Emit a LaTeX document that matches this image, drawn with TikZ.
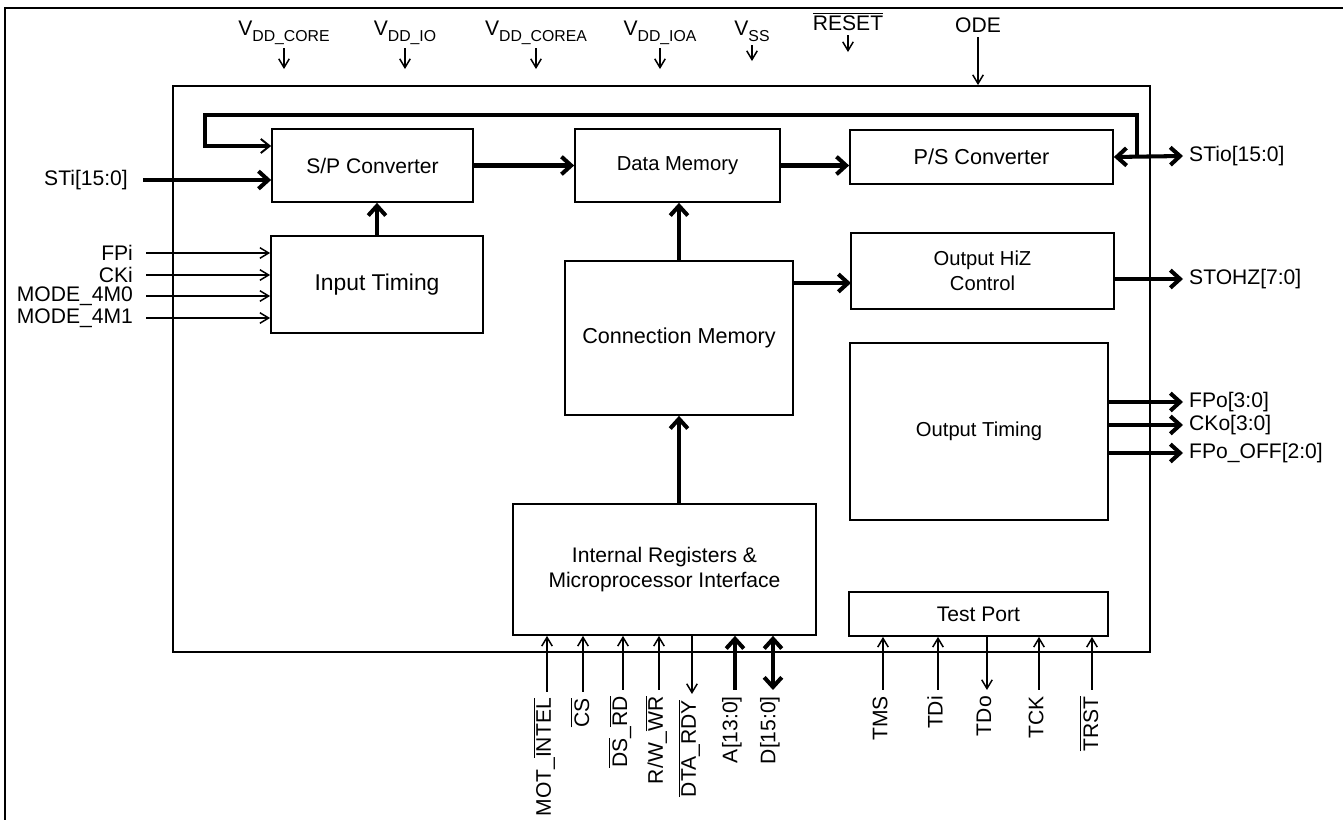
\documentclass[tikz,border=0pt]{standalone}
\usepackage{fontspec}
\setmainfont{Liberation Sans}
\usetikzlibrary{arrows.meta}
\newcommand{\ovl}[1]{$\overline{\mbox{#1}}$}
\newcommand{\subtxt}[1]{\raisebox{-0.45ex}{\fontsize{9}{10}\selectfont #1}}
\begin{document}
\begin{tikzpicture}[x=0.02cm,y=-0.02cm,
    lab/.style={font=\fontsize{12}{14}\selectfont},
    blk/.style={draw,line width=1pt,align=center,inner sep=1pt},
    pin/.style={line width=0.85pt,-{Straight Barb[length=5pt,width=6pt]}},
    bus/.style={line width=2.3pt,-{Straight Barb[length=5.5pt,width=10pt]}},
    busd/.style={line width=2.3pt,{Straight Barb[length=5.5pt,width=10pt]}-{Straight Barb[length=5.5pt,width=10pt]}},
    loopbus/.style={line width=1.9pt,-{Straight Barb[length=5pt,width=8pt,line width=1.1pt]}},
    bot/.style={lab,rotate=90,anchor=east}]
  \useasboundingbox (0,0) rectangle (1343,820);
  \draw[line width=1.4pt] (1343,8) -- (5,8) -- (5,820);
  % device outline
  \node[draw,line width=1.1pt,minimum width=19.54cm,minimum height=11.32cm] (chip) at (661.5,369) {};
  % blocks
  \node[blk,font=\fontsize{12}{14}\selectfont,minimum width=4.02cm,minimum height=1.46cm] (sp) at (372.5,165.5) {S/P Converter};
  \node[blk,font=\fontsize{11.5}{13}\selectfont,minimum width=4.10cm,minimum height=1.46cm] (dm) at (677.5,165.5) {Data Memory};
  \node[blk,font=\fontsize{12.3}{14}\selectfont,minimum width=5.26cm,minimum height=1.08cm] (ps) at (981.5,157) {P/S Converter};
  \node[blk,font=\fontsize{13}{15}\selectfont,minimum width=4.24cm,minimum height=1.94cm] (it) at (377,284.5) {Input Timing};
  \node[blk,font=\fontsize{12.3}{14}\selectfont,minimum width=4.56cm,minimum height=3.08cm] (cm) at (679,338) {Connection Memory};
  \node[blk,font=\fontsize{11.5}{14}\selectfont,minimum width=5.26cm,minimum height=1.52cm] (hiz) at (982.5,271) {Output HiZ\\Control};
  \node[blk,font=\fontsize{11.5}{13}\selectfont,minimum width=5.16cm,minimum height=3.54cm] (ot) at (979,431.5) {Output Timing};
  \node[blk,font=\fontsize{12}{14.5}\selectfont,minimum width=6.06cm,minimum height=2.62cm] (ir) at (664.5,569.5) {Internal Registers \&\\Microprocessor Interface};
  \node[blk,font=\fontsize{12}{14}\selectfont,minimum width=5.18cm,minimum height=0.88cm] (tp) at (978.5,614) {Test Port};
  % internal data paths
  \draw[bus] (sp.east) -- (dm.west);
  \draw[bus] (dm.east) -- (dm.east -| ps.west);
  \draw[bus] (it.north) -- (it.north |- sp.south);
  \draw[bus] (cm.north) -- (cm.north |- dm.south);
  \draw[bus] (cm.south |- ir.north) -- (cm.south);
  \coordinate (hizin) at (851,283);
  \draw[bus] (hizin -| cm.east) -- (hizin);
  \coordinate (tap) at (1137,157);
  \coordinate (busr) at (1137,115);
  \coordinate (busl) at (205,115);
  \coordinate (spin) at (272,146);
  \draw[loopbus] (tap) -- (busr) -- (busl) |- (sp.west |- spin);
  % supplies and top pins
  \node[lab,anchor=base,inner sep=2pt] (vcore) at (284,36) {V\subtxt{DD\_CORE}};
  \node[lab,anchor=base,inner sep=2pt] (vio) at (405,36) {V\subtxt{DD\_IO}};
  \node[lab,anchor=base,inner sep=2pt] (vcorea) at (536,36) {V\subtxt{DD\_COREA}};
  \node[lab,anchor=base,inner sep=2pt] (vioa) at (660,36) {V\subtxt{DD\_IOA}};
  \node[lab,anchor=base,inner sep=2pt] (vss) at (752,36) {V\subtxt{SS}};
  \node[lab,anchor=base,inner sep=2pt] (rst) at (848,31) {\ovl{RESET}};
  \node[lab,anchor=base,inner sep=2pt] (ode) at (978,33) {ODE};
  \foreach \s in {vcore,vio,vcorea,vioa}
    \draw[pin] (\s.south) -- ++(0,21);
  \draw[pin] (vss.south) -- ++(0,16);
  \draw[pin] (rst.south) -- ++(0,17);
  \draw[pin] (ode.south) -- (ode.south |- chip.north);
  % left inputs
  \node[lab,anchor=east] (sti) at (134,180) {STi[15:0]};
  \draw[bus,shorten <=5pt] (sti.east) -- (sti.east -| sp.west);
  \node[lab,anchor=east,inner sep=1pt] (fpi) at (135,253) {FPi};
  \node[lab,anchor=east,inner sep=1pt] (cki) at (135,275) {CKi};
  \node[lab,anchor=east,inner sep=1pt] (mzero) at (135,296) {MODE\_4M0};
  \node[lab,anchor=east,inner sep=1pt] (mone) at (135,318) {MODE\_4M1};
  \foreach \s in {fpi,cki,mzero,mone}
    \draw[pin,shorten <=6.5pt] (\s.east) -- (\s.east -| it.west);
  % right outputs
  \node[lab,anchor=west] (stio) at (1183,156) {STio[15:0]};
  \draw[busd] (ps.east) -- (stio.west);
  \node[lab,anchor=west] (stohz) at (1183,279) {STOHZ[7:0]};
  \draw[bus] (stohz.west -| hiz.east) -- (stohz.west);
  \node[lab,anchor=west] (fpo) at (1183,402) {FPo[3:0]};
  \node[lab,anchor=west] (cko) at (1183,425) {CKo[3:0]};
  \node[lab,anchor=west] (fpoff) at (1183,453) {FPo\_OFF[2:0]};
  \foreach \s in {fpo,cko,fpoff}
    \draw[bus] (\s.west -| ot.east) -- (\s.west);
  % microprocessor port
  \node[bot] (mot) at (544,692) {MOT\_\ovl{INTEL}};
  \node[bot] (cs) at (580,692) {\ovl{CS}};
  \node[bot] (ds) at (620,690) {\ovl{DS}\_\ovl{RD}};
  \node[bot] (rw) at (656,690) {R/W\_\ovl{WR}};
  \node[bot] (dta) at (689,694) {\ovl{DTA\_RDY}};
  \node[bot] (addr) at (732,690) {A[13:0]};
  \node[bot] (data) at (770,690) {D[15:0]};
  \foreach \s in {mot,cs,ds,rw}
    \draw[pin] ([xshift=1.7pt]\s.east) -- ([xshift=1.7pt]\s.east |- ir.south);
  \draw[pin] ([xshift=1.7pt]dta.east |- ir.south) -- ([xshift=1.7pt]dta.east);
  \draw[bus] ([xshift=1.7pt]addr.east) -- ([xshift=1.7pt]addr.east |- ir.south);
  \draw[busd] ([xshift=1.7pt]data.east) -- ([xshift=1.7pt]data.east |- ir.south);
  % test port
  \node[bot] (tms) at (880,690) {TMS};
  \node[bot] (tdi) at (935,690) {TDi};
  \node[bot] (tdo) at (984,690) {TDo};
  \node[bot] (tck) at (1036,690) {TCK};
  \node[bot] (trst) at (1089,690) {\ovl{TRST}};
  \foreach \s in {tms,tdi,tck,trst}
    \draw[pin] ([xshift=1.7pt]\s.east) -- ([xshift=1.7pt]\s.east |- tp.south);
  \draw[pin] ([xshift=1.7pt]tdo.east |- tp.south) -- ([xshift=1.7pt]tdo.east);
\end{tikzpicture}
\end{document}
